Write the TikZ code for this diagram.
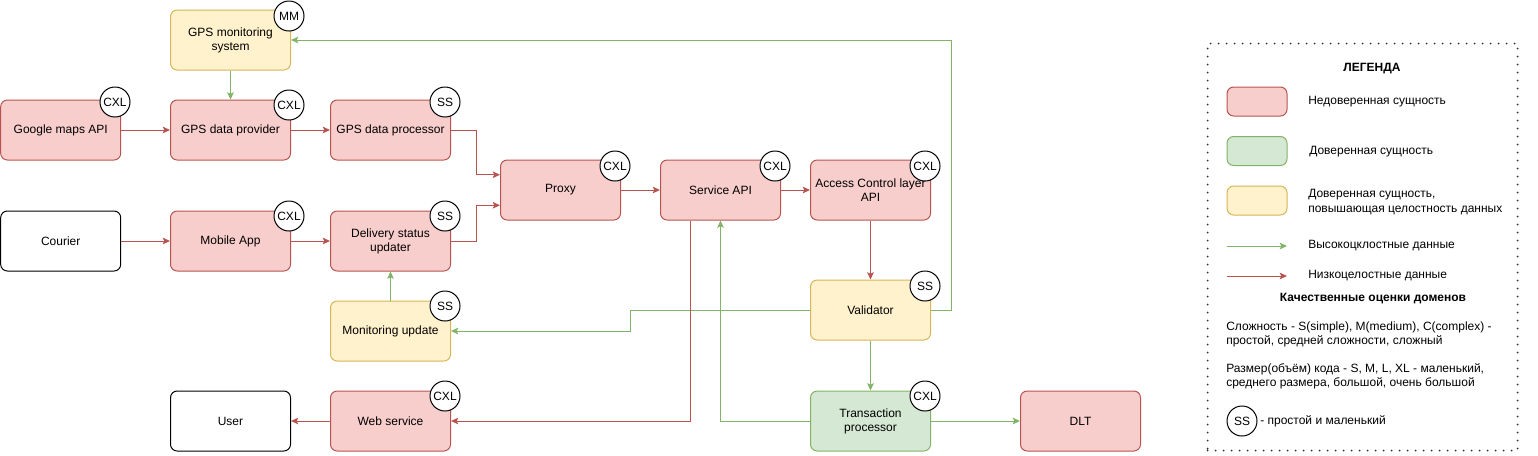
\documentclass[tikz,border=0pt]{standalone}
\usepackage{fontspec}
\setmainfont{Liberation Sans}
\usetikzlibrary{arrows.meta,calc}
\definecolor{rfill}{HTML}{F8CECC}
\definecolor{rline}{HTML}{B85450}
\definecolor{gfill}{HTML}{D5E8D4}
\definecolor{gline}{HTML}{82B366}
\definecolor{yfill}{HTML}{FFF2CC}
\definecolor{yline}{HTML}{D6B656}
\begin{document}
\begin{tikzpicture}[x=0.75pt,y=-0.75pt,
  font=\fontsize{9}{10.6}\selectfont,
  box/.style={draw=black, fill=white, rounded corners=5pt, minimum width=90pt, minimum height=45pt,
    align=center, inner sep=1pt, line width=0.75pt},
  redbox/.style={box, fill=rfill, draw=rline},
  greenbox/.style={box, fill=gfill, draw=gline},
  yellowbox/.style={box, fill=yfill, draw=yline},
  badge/.style={circle, draw=black, fill=white, minimum size=22.5pt, inner sep=0pt, line width=0.75pt},
  hi/.style={draw=gline, line width=0.75pt, -{Stealth[length=5.5pt,width=5pt,inset=1.2pt]}},
  lo/.style={draw=rline, line width=0.75pt, -{Stealth[length=5.5pt,width=5pt,inset=1.2pt]}},
  ltext/.style={anchor=west, inner sep=0pt, align=left},
  lbold/.style={inner sep=0pt, font=\fontsize{9}{10.6}\selectfont\bfseries},
  legendframe/.style={draw=black!80, line width=1.5pt, line cap=round, dash pattern=on 0pt off 6pt,
    minimum width=232.5pt, minimum height=305.25pt, inner sep=0pt}
]
\useasboundingbox (0,0) rectangle (1538,455);

% main nodes
\node[yellowbox] (gpsmon) at (230.5,40) {GPS monitoring\\system};
\node[redbox] (gmaps) at (60.7,130) {Google maps API};
\node[redbox] (gpsprov) at (230.5,130) {GPS data provider};
\node[redbox] (gpsproc) at (390.5,130) {GPS data processor};
\node[box] (courier) at (60.7,241) {Courier};
\node[redbox] (mobile) at (230.5,241) {Mobile App};
\node[redbox] (delivery) at (390.5,241) {Delivery status\\updater};
\node[redbox] (proxy) at (560.5,190) {Proxy};
\node[redbox] (service) at (720.5,190) {Service API};
\node[redbox] (acl) at (870.5,190) {Access Control layer\\API};
\node[yellowbox] (validator) at (870.5,310) {Validator};
\node[yellowbox] (monupd) at (390.5,331) {Monitoring update};
\node[box] (user) at (230.5,421) {User};
\node[redbox] (web) at (390.5,421) {Web service};
\node[greenbox] (trans) at (870.5,421) {Transaction\\processor};
\node[redbox] (dlt) at (1080.5,421) {DLT};

% badges
\node[badge] (bgpsmon) at (289,16) {MM};
\node[badge] (bgmaps) at (115,102) {CXL};
\node[badge] (bgpsprov) at (289,105) {CXL};
\node[badge] (bgpsproc) at (445,102) {SS};
\node[badge] (bmobile) at (289,216) {CXL};
\node[badge] (bdelivery) at (445,216) {SS};
\node[badge] (bproxy) at (615,166) {CXL};
\node[badge] (bservice) at (775,166) {CXL};
\node[badge] (bacl) at (925,166) {CXL};
\node[badge] (bvalidator) at (925,286) {SS};
\node[badge] (bmonupd) at (445,306) {SS};
\node[badge] (bweb) at (445,396) {CXL};
\node[badge] (btrans) at (925,396) {CXL};

% helper coordinates
\coordinate (pin1) at ($(proxy.north west)!0.25!(proxy.south west)$);
\coordinate (pin2) at ($(proxy.north west)!0.75!(proxy.south west)$);
\coordinate (sout) at ($(service.south west)!0.25!(service.south east)$);

% connectors
\draw[hi] (gpsmon.south) -- (gpsprov.north);
\draw[lo] (gmaps.east) -- (gpsprov.west);
\draw[lo] (gpsprov.east) -- (gpsproc.west);
\draw[lo] (gpsproc.east) -- ++(25,0) |- (pin1);
\draw[lo] (courier.east) -- (mobile.west);
\draw[lo] (mobile.east) -- (delivery.west);
\draw[lo] (delivery.east) -- ++(25,0) |- (pin2);
\draw[hi] (monupd.north) -- (delivery.south);
\draw[lo] (proxy.east) -- (service.west);
\draw[lo] (service.east) -- (acl.west);
\draw[lo] (acl.south) -- (validator.north);
\draw[hi] (validator.south) -- (trans.north);
\draw[hi] (trans.east) -- (dlt.west);
\draw[hi] (validator.east) -- ++(20,0) |- (gpsmon.east);
\draw[hi] (validator.west) -- ++(-180,0) |- (monupd.east);
\draw[lo] (sout) |- (web.east);
\draw[hi] (trans.west) -| (service.south);
\draw[lo] (web.west) -- (user.east);

% legend
\node[legendframe] (legend) at (1362.5,247) {};
\node[lbold] (lgtitle) at (1372,69) {ЛЕГЕНДА};
\node[redbox, minimum width=45pt, minimum height=21.75pt] (lg1) at (1257,101.5) {};
\node[ltext] (lt1) at (1308,101.5) {Недоверенная сущность};
\node[greenbox, minimum width=45pt, minimum height=21.75pt] (lg2) at (1257,151) {};
\node[ltext] (lt2) at (1309,151.5) {Доверенная сущность};
\node[yellowbox, minimum width=45pt, minimum height=21.75pt] (lg3) at (1257,200.5) {};
\node[ltext] (lt3) at (1308,202) {Доверенная сущность,\\повышающая целостность данных};
\coordinate (ga1) at (1227,246);
\coordinate (ga2) at (1287,246);
\draw[hi] (ga1) -- (ga2);
\node[ltext] (lt4) at (1308,246) {Высокоцклостные данные};
\coordinate (ra1) at (1227,276);
\coordinate (ra2) at (1287,276);
\draw[lo] (ra1) -- (ra2);
\node[ltext] (lt5) at (1308,276) {Низкоцелостные данные};
\node[lbold] (lgtitle2) at (1373,299) {Качественные оценки доменов};
\node[ltext] (lt6) at (1226,334) {Сложность - S(simple), M(medium), C(complex) -\\простой, средней сложности, сложный};
\node[ltext] (lt7) at (1226,376) {Размер(объём) кода - S, M, L, XL - маленький,\\среднего размера, большой, очень большой};
\node[badge] (lgbadge) at (1242,421) {SS};
\node[ltext] (lt8) at (1260,421) {- простой и маленький};
\end{tikzpicture}
\end{document}
